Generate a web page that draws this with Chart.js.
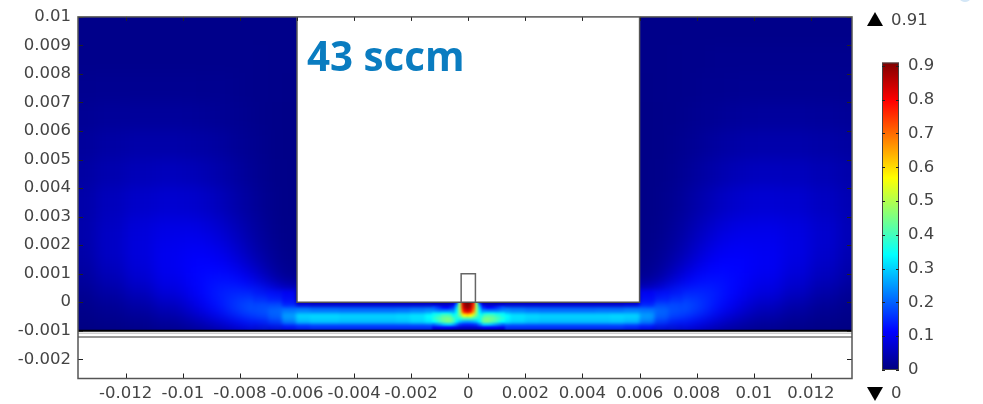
<!DOCTYPE html>
<html><head><meta charset="utf-8">
<style>html,body{margin:0;padding:0;background:#fff;overflow:hidden}canvas{position:absolute;top:0}#m{left:0}#c{left:860px}</style>
<script src="https://cdn.jsdelivr.net/npm/chart.js@4"></script>
</head><body>
<canvas id="m" width="983" height="404"></canvas>
<canvas id="c" width="123" height="404"></canvas>
<script>
// ---- tick labels ----
const xTickValues=[-0.012,-0.01,-0.008,-0.006,-0.004,-0.002,0,0.002,0.004,0.006,0.008,0.01,0.012];
const xTickLabels=['-0.012','-0.01','-0.008','-0.006','-0.004','-0.002','0','0.002','0.004','0.006','0.008','0.01','0.012'];
const yTickValues=[-0.002,-0.001,0,0.001,0.002,0.003,0.004,0.005,0.006,0.007,0.008,0.009,0.01];
const yTickLabels=['-0.002','-0.001','0','0.001','0.002','0.003','0.004','0.005','0.006','0.007','0.008','0.009','0.01'];
const barTickValues=[0,0.1,0.2,0.3,0.4,0.5,0.6,0.7,0.8,0.9];
const barTickLabels=['0','0.1','0.2','0.3','0.4','0.5','0.6','0.7','0.8','0.9'];
const titleText='43 sccm', maxLabel='0.91', minLabel='0';
// ---- grids: edges in mm, values in thousandths ----
const farXEdges=[-16,-13,-12,-11,-10,-9.5,-9,-8.5,-8,-7.5,-7,-6.5,-6,6,6.5,7,7.5,8,8.5,9,9.5,10,11,12,13,16];
const farYEdges=[14,10,9,8,7,6,5,4,3,2.5,2,1.5,1,.5,0,-.5,-1,-2];
const farValues=[
[10,10,10,10,10,10,10,10,10,10,10,10,10,10,10,10,10,10,10,10,10,10,10,10,10],
[10,10,10,10,10,10,10,10,10,10,10,10,10,10,10,10,10,10,10,10,10,10,10,10,10],
[12,12,12,12,12,12,12,12,12,11,10,10,10,10,10,11,12,12,13,13,13,13,13,13,13],
[15,16,16,16,16,15,15,14,12,11,10,9,9,9,10,11,12,14,15,16,17,17,17,17,16],
[20,23,25,25,24,22,20,17,14,11,9,8,8,8,9,11,14,17,20,23,25,27,27,25,22],
[26,33,37,37,36,33,29,23,18,13,9,8,8,8,9,13,18,23,29,34,37,39,39,36,30],
[32,43,51,54,52,47,40,32,23,15,10,8,8,8,10,15,23,32,40,48,53,56,55,48,39],
[38,54,66,72,70,65,55,42,30,19,11,8,8,8,11,19,30,43,56,66,72,75,71,60,46],
[40,60,78,87,87,82,70,54,38,23,12,8,8,8,12,23,38,55,71,83,88,90,84,69,50],
[40,63,82,94,98,94,83,65,45,27,14,9,9,9,14,27,45,66,84,95,99,98,88,71,50],
[38,62,84,100,106,106,98,80,57,34,18,10,10,10,18,34,57,81,99,107,107,102,90,69,46],
[33,56,79,101,111,115,112,99,77,48,24,13,13,13,24,48,77,101,114,116,112,104,85,62,40],
[27,46,70,94,108,120,127,124,108,76,40,20,20,20,40,76,108,124,127,120,108,96,75,52,32],
[18,32,52,78,98,118,138,150,150,140,110,85,85,85,110,140,150,150,138,118,98,82,58,36,20],
[11,19,31,50,72,96,125,158,188,205,215,230,230,230,215,205,188,158,125,96,72,53,34,20,12],
[6,10,14,24,36,50,70,95,120,140,160,180,180,180,160,140,120,95,70,50,36,25,16,10,6],
[2,3,5,8,10,12,15,20,25,30,30,30,30,30,30,30,25,20,15,12,10,8,5,3,2]];
const channelXEdges=[-7.5,-7,-6.5,-6,-5.5,-5,-4.5,-4,-3.5,-3,-2.5,-2,-1.5,-1,-.5,0,.5,1,1.5,2,2.5,3,3.5,4,4.5,5,5.5,6,6.5,7,7.5];
const channelYEdges=[.4,0,-.2,-.4,-.6,-.8,-1,-1.4];
const channelValues=[
[110,125,110,30,20,20,20,20,20,20,20,20,20,20,20,20,20,20,20,20,20,20,20,20,20,20,30,110,125,110],
[150,170,130,80,70,70,70,70,70,70,70,70,70,50,50,50,50,70,70,70,70,70,70,70,70,70,80,130,170,150],
[170,210,225,225,215,215,210,210,210,210,215,225,235,200,200,200,200,235,225,215,210,210,210,210,215,215,225,225,210,170],
[160,210,270,300,305,305,300,300,300,300,305,315,340,380,400,400,380,340,315,305,300,300,300,300,300,305,300,270,210,160],
[120,170,240,280,290,290,285,285,285,285,290,305,325,400,300,300,400,325,305,290,285,285,285,285,285,290,280,240,170,120],
[60,90,120,150,160,160,160,160,160,160,160,160,160,150,100,100,150,160,160,160,160,160,160,160,160,160,150,120,90,60],
[10,10,10,10,10,10,10,10,10,10,10,10,10,10,10,10,10,10,10,10,10,10,10,10,10,10,10,10,10,10]];
const jetX=[-1.2,-1.1,-1,-.9,-.8,-.7,-.6,-.5,-.4,-.3,-.2,-.1,0,.1,.2,.3,.4,.5,.6,.7,.8,.9,1,1.1,1.2];
const jetY=[.1,0,-.1,-.2,-.3,-.4,-.5,-.6,-.7,-.8,-.9,-1,-1.1];
const jetValues=[
[30,30,30,30,30,30,30,40,80,400,820,890,910,890,820,400,80,40,30,30,30,30,30,30,30],
[30,30,30,30,30,30,30,40,80,400,820,890,910,890,820,400,80,40,30,30,30,30,30,30,30],
[70,70,60,60,60,60,70,100,220,470,760,880,910,880,760,470,220,100,70,60,60,60,60,70,70],
[190,170,150,130,120,120,140,170,290,480,740,860,890,860,740,480,290,170,140,120,120,130,150,170,190],
[240,230,220,220,220,220,230,240,320,470,690,810,840,810,690,470,320,240,230,220,220,220,220,230,240],
[320,320,320,330,330,330,320,300,340,460,620,710,740,710,620,460,340,300,320,330,330,330,320,320,320],
[350,370,380,400,410,410,400,350,370,430,510,570,590,570,510,430,370,350,400,410,410,400,380,370,350],
[370,390,410,430,440,450,440,400,360,370,390,410,410,410,390,370,360,400,440,450,440,430,410,390,370],
[340,360,390,410,430,450,440,400,330,290,270,260,255,260,270,290,330,400,440,450,430,410,390,360,340],
[210,230,250,270,290,300,300,270,220,170,155,150,148,150,155,170,220,270,300,300,290,270,250,230,210],
[100,100,110,110,110,110,110,100,90,75,70,70,70,70,70,75,90,100,110,110,110,110,110,100,100],
[25,25,25,25,25,25,25,20,20,20,20,20,20,20,20,20,20,20,25,25,25,25,25,25,25],
[10,10,10,10,10,10,10,10,10,10,10,10,10,10,10,10,10,10,10,10,10,10,10,10,10]];
// ---- colour map (value, r, g, b) ----
const jetStops=[[0,0,0,127],[.114,0,0,255],[.341,0,255,255],[.569,255,255,0],[.796,255,0,0],[.91,127,0,0]];
function colorOf(v){
  for(let i=1;i<jetStops.length;i++){const a=jetStops[i-1],b=jetStops[i];
    if(v<=b[0]){const t=Math.max(0,(v-a[0])/(b[0]-a[0]));
      return 'rgb('+[1,2,3].map(k=>Math.round(a[k]+(b[k]-a[k])*t)).join(',')+')';}}
  return 'rgb(127,0,0)';
}
function edgeCells(xe,ye,vals,fade){const out=[];
  vals.forEach((row,j)=>row.forEach((v,i)=>{
    const cx=(xe[i]+xe[i+1])/2,cy=(ye[j]+ye[j+1])/2;
    out.push({x:cx/1000,y:cy/1000,v:v/1000,w:(xe[i+1]-xe[i])/1000,h:(ye[j]-ye[j+1])/1000,a:fade?fade(cx,cy):1});
  }));return out;}
function centerCells(xs,ys,vals){const out=[];
  vals.forEach((row,j)=>row.forEach((v,i)=>out.push({x:xs[i]/1000,y:ys[j]/1000,v:v/1000,w:.0001,h:.0001,a:1})));
  return out;}
const cache={};
function cellStyle(ctx){
  const d=ctx.raw; if(!d) return 'circle';
  const sx=ctx.chart.scales.x, sy=ctx.chart.scales.y;
  const w=Math.ceil(Math.abs(sx.getPixelForValue(d.x+d.w/2)-sx.getPixelForValue(d.x-d.w/2)))+1;
  const h=Math.ceil(Math.abs(sy.getPixelForValue(d.y+d.h/2)-sy.getPixelForValue(d.y-d.h/2)))+1;
  const key=[d.v,w,h,d.a].join('|');
  if(!cache[key]){const c=document.createElement('canvas');c.width=w;c.height=h;
    const g=c.getContext('2d');g.globalAlpha=d.a;g.fillStyle=colorOf(d.v);g.fillRect(0,0,w,h);cache[key]=c;}
  return cache[key];
}
function layer(data,order){return {data,order,showLine:false,clip:false,pointRadius:400,pointBorderWidth:0,pointStyle:cellStyle};}
const blurByDataset=[7,1.8,1];
const INK='#444';
function mm(s,v){return s.getPixelForValue(v/1000);}
const fieldPlugin={id:'field',
  afterDatasetDraw(chart,args){
    const c=chart.canvas,ctx=chart.ctx;ctx.save();
    ctx.filter='blur('+blurByDataset[args.index]+'px)';ctx.drawImage(c,0,0);ctx.restore();
  },
  afterDatasetsDraw(chart){
    const ctx=chart.ctx,a=chart.chartArea,sx=chart.scales.x,sy=chart.scales.y,W=chart.width,H=chart.height;
    ctx.save();
    ctx.clearRect(0,0,W,a.top);ctx.clearRect(0,a.bottom,W,H-a.bottom);
    ctx.clearRect(0,0,a.left,H);ctx.clearRect(a.right,0,W-a.right,H);
    const wall=sy.getPixelForValue(-0.001);
    ctx.fillStyle='#fff';ctx.fillRect(a.left,wall,a.right-a.left,a.bottom-wall);
    const bx0=mm(sx,-6),bx1=mm(sx,6),by=sy.getPixelForValue(0),ny=sy.getPixelForValue(.001);
    const nx0=mm(sx,-.25),nx1=mm(sx,.25);
    ctx.fillRect(bx0,a.top,bx1-bx0,by-a.top);
    ctx.strokeStyle='#555';ctx.lineWidth=1.5;
    ctx.beginPath();ctx.moveTo(bx0,a.top);ctx.lineTo(bx0,by);ctx.lineTo(bx1,by);ctx.lineTo(bx1,a.top);ctx.stroke();
    ctx.strokeStyle='#666';ctx.beginPath();ctx.moveTo(nx0,by);ctx.lineTo(nx0,ny);ctx.lineTo(nx1,ny);ctx.lineTo(nx1,by);ctx.stroke();
    ctx.strokeStyle='#000';ctx.lineWidth=2;ctx.beginPath();ctx.moveTo(a.left,wall);ctx.lineTo(a.right,wall);ctx.stroke();
    ctx.strokeStyle='#bbb';ctx.lineWidth=1;ctx.beginPath();ctx.moveTo(a.left,wall+2.5);ctx.lineTo(a.right,wall+2.5);ctx.stroke();
    ctx.strokeStyle='#777';ctx.lineWidth=1.5;const l2=sy.getPixelForValue(-0.00122);ctx.beginPath();ctx.moveTo(a.left,l2);ctx.lineTo(a.right,l2);ctx.stroke();
    ctx.restore();
  },
  afterDraw(chart){
    const ctx=chart.ctx,a=chart.chartArea,sx=chart.scales.x,sy=chart.scales.y;
    ctx.save();ctx.strokeStyle='#222';ctx.lineWidth=1;ctx.beginPath();
    xTickValues.forEach(v=>{const p=Math.round(sx.getPixelForValue(v))+.5;ctx.moveTo(p,a.bottom);ctx.lineTo(p,a.bottom-5);ctx.moveTo(p,a.top);ctx.lineTo(p,a.top+4);});
    yTickValues.forEach(v=>{const p=Math.round(sy.getPixelForValue(v))+.5;ctx.moveTo(a.left,p);ctx.lineTo(a.left+5,p);ctx.moveTo(a.right,p);ctx.lineTo(a.right-5,p);});
    ctx.stroke();
    ctx.strokeStyle='#555';ctx.lineWidth=1.5;ctx.strokeRect(a.left,a.top,a.right-a.left,a.bottom-a.top);
    ctx.fillStyle='#0a7cc0';ctx.font='bold 40.3px "Open Sans"';ctx.textBaseline='alphabetic';ctx.textAlign='left';
    ctx.fillText(titleText,307,70.5);
    ctx.fillStyle='#d3e6f6';ctx.beginPath();ctx.ellipse(965,-1,5,3,0,0,7);ctx.fill();
    ctx.restore();
  }};
const tickFont={family:'"DejaVu Sans"',size:16.5};
new Chart(document.getElementById('m'),{
  type:'scatter',
  data:{datasets:[
    layer(edgeCells(farXEdges,farYEdges,farValues),3),
    layer(edgeCells(channelXEdges,channelYEdges,channelValues,(x,y)=>{const d=Math.abs(x);return d<6?1:d<6.5?.7:d<7?.4:.15;}),2),
    layer(centerCells(jetX,jetY,jetValues),1)]},
  options:{responsive:false,animation:false,events:[],
    layout:{autoPadding:false,padding:{top:16,right:131,left:0,bottom:0}},
    plugins:{legend:{display:false},tooltip:{enabled:false}},
    scales:{
      x:{type:'linear',min:-0.01367,max:0.01344,grid:{display:false,drawTicks:false,tickLength:0},border:{display:false},
        afterBuildTicks(s){s.ticks=xTickValues.map(value=>({value}));},
        afterFit(s){s.height=25.5;},
        ticks:{z:1,autoSkip:false,maxRotation:0,minRotation:0,padding:5,color:INK,font:tickFont,callback:(v,i)=>xTickLabels[i]}},
      y:{type:'linear',min:-0.002675,max:0.01,grid:{display:false,drawTicks:false,tickLength:0},border:{display:false},
        afterBuildTicks(s){s.ticks=yTickValues.map(value=>({value}));},
        afterFit(s){s.width=78;},
        ticks:{z:1,autoSkip:false,padding:7,color:INK,font:tickFont,callback:(v,i)=>yTickLabels[i]}}
    }},
  plugins:[fieldPlugin]});
// ---- colour bar ----
const barPlugin={id:'bar',afterDraw(chart){
  const ctx=chart.ctx,a=chart.chartArea,sy=chart.scales.y;
  ctx.save();ctx.strokeStyle='#444';ctx.lineWidth=1;ctx.strokeRect(a.left+.5,a.top+.5,a.right-a.left-1,a.bottom-a.top-1);
  ctx.strokeStyle='#222';ctx.beginPath();
  barTickValues.forEach(v=>{const p=Math.round(sy.getPixelForValue(v))+.5;ctx.moveTo(a.left,p);ctx.lineTo(a.left+3,p);ctx.moveTo(a.right,p);ctx.lineTo(a.right-3,p);});
  ctx.stroke();
  ctx.fillStyle='#000';
  ctx.beginPath();ctx.moveTo(7,26);ctx.lineTo(23,26);ctx.lineTo(15,12);ctx.closePath();ctx.fill();
  ctx.beginPath();ctx.moveTo(7,387);ctx.lineTo(23,387);ctx.lineTo(15,401);ctx.closePath();ctx.fill();
  ctx.fillStyle=INK;ctx.font='16.5px "DejaVu Sans"';ctx.textBaseline='middle';ctx.textAlign='left';
  ctx.fillText(maxLabel,31,21);ctx.fillText(minLabel,31,394);
  ctx.restore();
}};
new Chart(document.getElementById('c'),{
  type:'bar',
  data:{labels:[''],datasets:[{data:[[0,0.91]],barPercentage:1,categoryPercentage:1,
    backgroundColor(ctx){const ch=ctx.chart;if(!ch.chartArea)return '#00f';
      const g=ch.ctx.createLinearGradient(0,ch.scales.y.getPixelForValue(0),0,ch.scales.y.getPixelForValue(.91));
      jetStops.forEach(s=>g.addColorStop(s[0]/.91,`rgb(${s[1]},${s[2]},${s[3]})`));return g;}}]},
  options:{responsive:false,animation:false,events:[],
    layout:{padding:{top:62.5,left:22,bottom:34,right:0}},
    plugins:{legend:{display:false},tooltip:{enabled:false}},
    scales:{
      x:{display:false},
      y:{position:'right',min:0,max:0.91,grid:{display:false,drawTicks:false,tickLength:0},border:{display:false},
        afterBuildTicks(s){s.ticks=barTickValues.map(value=>({value}));},
        afterFit(s){s.width=84;},
        ticks:{autoSkip:false,padding:9,color:INK,font:tickFont,callback:(v,i)=>barTickLabels[i]}}
    }},
  plugins:[barPlugin]});
</script>
</body></html>
